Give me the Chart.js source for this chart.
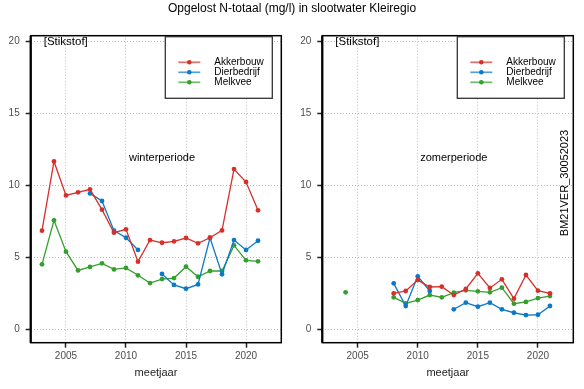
<!DOCTYPE html>
<html><head><meta charset="utf-8">
<script src="https://cdn.jsdelivr.net/npm/chart.js@4/dist/chart.umd.min.js"></script>
<style>
html,body{margin:0;padding:0;background:#fff;}
#wrap{position:relative;width:584px;height:389px;background:#fff;}
canvas{position:absolute;left:0;top:0;}
</style>
</head><body>
<div id="wrap"><canvas id="c1" width="584" height="389"></canvas><canvas id="c2" width="584" height="389"></canvas></div>
<script>
const years = [2003,2004,2005,2006,2007,2008,2009,2010,2011,2012,2013,2014,2015,2016,2017,2018,2019,2020,2021];
const seriesNames = ['Akkerbouw','Dierbedrijf','Melkvee'];
const seriesColors = ['#d7302b','#0b79c9','#33a02c'];
const xTicks = [2005,2010,2015,2020];
const yTicks = [0,5,10,15,20];

const winterAkkerbouw  = [6.83,11.64,9.28,9.49,9.70,8.29,6.69,6.92,4.68,6.18,5.99,6.09,6.32,5.95,6.34,6.85,11.11,10.21,8.24];
const winterDierbedrijf= [null,null,null,null,9.42,8.89,6.83,6.34,5.49,null,3.82,3.06,2.80,3.10,6.34,3.80,6.18,5.49,6.13];
const winterMelkvee    = [4.49,7.55,5.37,4.07,4.31,4.56,4.14,4.24,3.73,3.19,3.47,3.54,4.33,3.63,4.03,4.03,5.81,4.77,4.70];

const zomerAkkerbouw   = [null,null,null,null,null,2.48,2.64,3.40,2.92,2.94,2.36,2.78,3.87,2.85,3.45,2.11,3.75,2.66,2.48];
const zomerDierbedrijf = [null,null,null,null,null,3.17,1.60,3.66,2.64,null,1.37,1.83,1.55,1.83,1.37,1.13,0.97,0.99,1.60];
const zomerMelkvee     = [null,2.55,null,null,null,2.20,1.78,2.01,2.36,2.20,2.52,2.69,2.62,2.55,2.87,1.76,1.88,2.15,2.29];

const FONT = "'Liberation Sans', Arial, sans-serif";
Chart.defaults.font.family = FONT;

function makeDatasets(arrs){
  return arrs.map((arr,i)=>({
    label: seriesNames[i],
    data: years.map((y,j)=>({x:y, y:arr[j]})),
    borderColor: seriesColors[i],
    backgroundColor: seriesColors[i],
    borderWidth: 1.3,
    pointRadius: 2.4,
    pointBorderWidth: 0,
    pointBackgroundColor: seriesColors[i],
    spanGaps: false,
    tension: 0
  }));
}

function decorPlugin(periodLabel, extra){
  return {
    id: 'decor',
    beforeDatasetsDraw(chart){
      const ctx = chart.ctx, a = chart.chartArea;
      ctx.save();
      ctx.strokeStyle = '#000';
      ctx.lineWidth = 1.5;
      ctx.strokeRect(a.left, a.top, a.right - a.left, a.bottom - a.top);
      ctx.lineWidth = 2.2;
      ctx.beginPath(); ctx.moveTo(a.left, a.top); ctx.lineTo(a.left, a.bottom); ctx.stroke();
      ctx.restore();
    },
    afterDraw(chart){
      const ctx = chart.ctx, a = chart.chartArea;
      const xs = chart.scales.x, ys = chart.scales.y;
      ctx.save();
      ctx.fillStyle = '#000';
      ctx.font = '11.5px ' + FONT;
      ctx.textAlign = 'left'; ctx.textBaseline = 'middle';
      ctx.fillText('[Stikstof]', a.left + 13, ys.getPixelForValue(20) + 0.5);
      ctx.font = '11px ' + FONT;
      ctx.textAlign = 'center';
      ctx.fillText(periodLabel, xs.getPixelForValue(2013), ys.getPixelForValue(11.85));
      // legend
      const bw = 107, bh = 61.6;
      const bx = a.right - 9 - bw, by = a.top + 1;
      ctx.fillStyle = '#fff';
      ctx.fillRect(bx, by, bw, bh);
      ctx.strokeStyle = '#333'; ctx.lineWidth = 1.3;
      ctx.strokeRect(bx, by, bw, bh);
      ctx.font = '10px ' + FONT;
      ctx.textAlign = 'left';
      seriesNames.forEach((n,i)=>{
        const yy = by + 25.6 + i*10;
        ctx.globalAlpha = 0.7;
        ctx.strokeStyle = seriesColors[i]; ctx.lineWidth = 1.7;
        ctx.beginPath(); ctx.moveTo(bx+13, yy); ctx.lineTo(bx+35, yy); ctx.stroke();
        ctx.globalAlpha = 1;
        ctx.fillStyle = seriesColors[i];
        ctx.beginPath(); ctx.arc(bx+24, yy, 2.3, 0, Math.PI*2); ctx.fill();
        ctx.fillStyle = '#000';
        ctx.fillText(n, bx+49, yy);
      });
      if (extra) extra(ctx, chart);
      ctx.restore();
    }
  };
}

function makeChart(id, arrs, yWidth, padRight, periodLabel, extra){
  return new Chart(document.getElementById(id), {
    type: 'line',
    data: { datasets: makeDatasets(arrs) },
    options: {
      responsive: false,
      animation: false,
      events: [],
      layout: { padding: { left: 0, top: 35.7, right: padRight, bottom: 0 } },
      plugins: { legend: {display:false}, tooltip: {enabled:false}, title: {display:false} },
      scales: {
        x: {
          type: 'linear', min: 2002.06, max: 2022.94,
          afterBuildTicks: s => { s.ticks = xTicks.map(v=>({value:v})); },
          afterFit: s => { s.height = 46.3; },
          ticks: { font: {size:10}, color: '#4d4d4d', padding: 3, maxRotation: 0, autoSkip: false, callback: v => String(v) },
          grid: { color: '#bdbdbd', lineWidth: 1, tickColor: '#222', tickLength: 5, tickWidth: 1.5 },
          border: { display: false, dash: [1,2] },
          title: { display: true, text: 'meetjaar', font: {size:11}, color: '#222', padding: {top:0, bottom:9} }
        },
        y: {
          type: 'linear', min: -0.95, max: 20.37,
          afterBuildTicks: s => { s.ticks = yTicks.map(v=>({value:v})); },
          afterFit: s => { s.width = yWidth; },
          ticks: { font: {size:10}, color: '#4d4d4d', padding: 6, autoSkip: false, callback: v => String(v) },
          grid: { color: '#bdbdbd', lineWidth: 1, tickColor: '#222', tickLength: 5, tickWidth: 1.5 },
          border: { display: false, dash: [1,2] }
        }
      }
    },
    plugins: [decorPlugin(periodLabel, extra)]
  });
}

makeChart('c1', [winterAkkerbouw, winterDierbedrijf, winterMelkvee], 30.7, 584 - 281.3, 'winterperiode', (ctx)=>{
  ctx.fillStyle = '#000';
  ctx.font = '12px ' + FONT;
  ctx.textAlign = 'center'; ctx.textBaseline = 'middle';
  ctx.fillText('Opgelost N-totaal (mg/l) in slootwater Kleiregio', 292, 9);
});
makeChart('c2', [zomerAkkerbouw, zomerDierbedrijf, zomerMelkvee], 322.3, 584 - 573.3, 'zomerperiode', (ctx)=>{
  ctx.save();
  ctx.fillStyle = '#000';
  ctx.font = '11px ' + FONT;
  ctx.translate(565, 183);
  ctx.rotate(-Math.PI/2);
  ctx.textAlign = 'center'; ctx.textBaseline = 'middle';
  ctx.fillText('BM21VER_30052023', 0, 0);
  ctx.restore();
});
</script>
</body></html>
